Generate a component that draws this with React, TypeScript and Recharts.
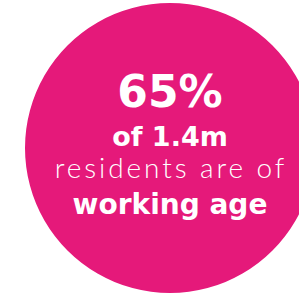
import React from "react";
import { PieChart, Pie, Cell } from "recharts";

const residentsData = [{ name: "Residents", value: 1.4 }];
const workingAgeShare = 65;
const totalResidents = "1.4m";
const lineTexts = [`${workingAgeShare}%`, `of ${totalResidents}`, "residents are of", "working age"];
const pink = "#E5197A";

const CenterText = (props: any) => {
  const cx = props.cx ?? 0;
  const cy = props.cy ?? 0;
  return (
    <g>
      <text x={cx} y={cy - 41} textAnchor="middle" fill="#fff" fontFamily="'DejaVu Sans', sans-serif" fontWeight={700} fontSize={44}>
        {lineTexts[0]}
      </text>
      <text x={cx} y={cy - 2} textAnchor="middle" fill="#fff" fontFamily="'DejaVu Sans', sans-serif" fontWeight={700} fontSize={27}>
        {lineTexts[1]}
      </text>
      <text x={cx + 1} y={cy + 30} textAnchor="middle" fill="#fff" fontFamily="Lato, sans-serif" fontWeight={300} fontSize={28} letterSpacing={2.9}>
        {lineTexts[2]}
      </text>
      <text x={cx} y={cy + 66} textAnchor="middle" fill="#fff" fontFamily="'DejaVu Sans', sans-serif" fontWeight={700} fontSize={28}>
        {lineTexts[3]}
      </text>
    </g>
  );
};

export default function App() {
  return (
    <div style={{ position: "absolute", left: 0, top: 0, width: 299, height: 293, background: "#fff" }}>
      <PieChart width={299} height={293} margin={{ top: 0, right: 0, bottom: 0, left: 0 }}>
        <Pie
          data={residentsData}
          dataKey="value"
          cx={170}
          cy={148}
          innerRadius={0}
          outerRadius={145}
          startAngle={90}
          endAngle={-270}
          stroke="none"
          label={CenterText}
          labelLine={false}
          isAnimationActive={false}
        >
          {residentsData.map((d) => (
            <Cell key={d.name} fill={pink} />
          ))}
        </Pie>
      </PieChart>
    </div>
  );
}
